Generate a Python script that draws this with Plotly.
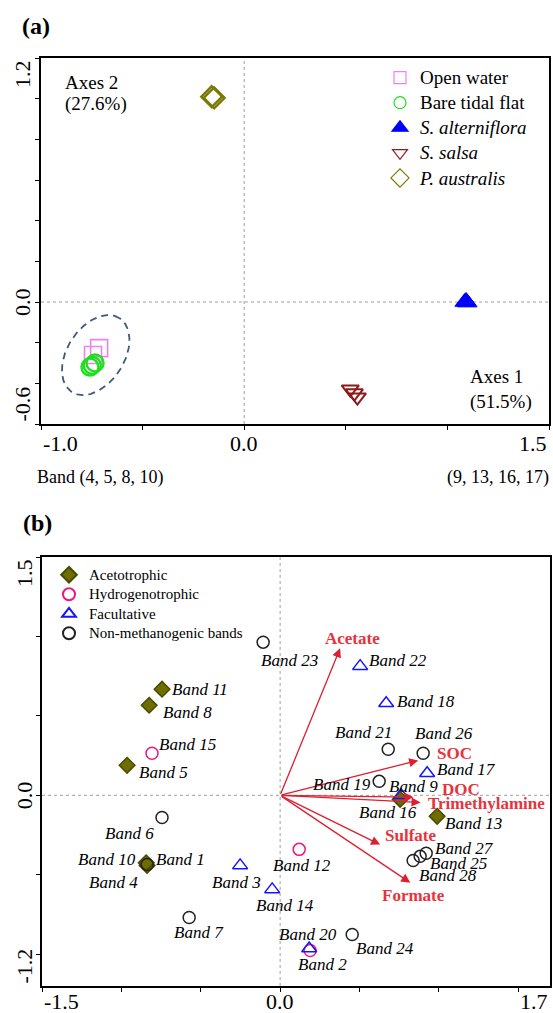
import numpy as np
import plotly.graph_objects as go

# ---------------- Panel (a) data ----------------
ow_x = [-0.714, -0.744]
ow_y = [-0.227, -0.261]
btf_x = [-0.759, -0.734, -0.748]
btf_y = [-0.320, -0.300, -0.312]
salt_x = [1.085, 1.092, 1.098]
salt_y = [0.000, 0.005, -0.003]
ssal_x = [0.522, 0.542, 0.557]
ssal_y = [-0.429, -0.448, -0.468]
paus_x = [-0.160, -0.148]
paus_y = [1.010, 1.004]

ell_cx, ell_cy = -0.731, -0.261
ell_a, ell_b, ell_angle = 0.216, 0.140, 57.0

a_group_names = ["Open water", "Bare tidal flat", "<i>S. alterniflora</i>",
                 "<i>S. salsa</i>", "<i>P. australis</i>"]

a_xticks = [-1.0, -0.5, 0.0, 0.5, 1.0, 1.5]
a_yticks = [-0.6, -0.4, -0.2, 0.0, 0.2, 0.4, 0.6, 0.8, 1.0, 1.2]
a_xlabels = ["-1.0", "0.0", "1.5"]
a_xlabel_vals = [-1.0, 0.0, 1.5]
a_ylabels = ["-0.6", "0.0", "1.2"]
a_ylabel_vals = [-0.6, 0.0, 1.2]

# ---------------- Panel (b) data ----------------
band_ids = list(range(1, 29))
band_x = [-0.838, 0.189, -0.252, -0.838, -0.964, -0.744, -0.573, -0.825, 0.762, -0.844,
          -0.744, 0.120, 0.989, -0.050, -0.807, 0.756, 0.926, 0.668, 0.624, 0.183,
          0.681, 0.504, -0.107, 0.454, 0.882, 0.901, 0.920, 0.838]
band_y = [-0.435, -0.977, -0.441, -0.441, 0.189, -0.139, -0.769, 0.567, 0.000, -0.425,
          0.668, -0.340, -0.132, -0.592, 0.265, -0.025, 0.139, 0.580, 0.088, -0.964,
          0.290, 0.813, 0.964, -0.876, -0.384, 0.265, -0.365, -0.410]
band_type = ["N", "H", "F", "A", "A", "N", "N", "A", "F", "A",
             "A", "H", "A", "F", "H", "A", "F", "F", "N", "F",
             "N", "F", "N", "N", "N", "N", "N", "N"]

type_codes = ["A", "H", "F", "N"]
type_names = ["Acetotrophic", "Hydrogenotrophic", "Facultative", "Non-methanogenic bands"]

env_names = ["Acetate", "SOC", "DOC", "Trimethylamine", "Sulfate", "Formate"]
env_x = [0.378, 0.870, 0.840, 0.885, 0.630, 0.820]
env_y = [0.926, 0.220, -0.012, -0.045, -0.310, -0.550]

b_xticks = [-1.5, -1.0, -0.5, 0.0, 0.5, 1.0, 1.5]
b_yticks = [-1.0, -0.5, 0.0, 0.5, 1.0, 1.5]
b_xlabels = ["-1.5", "0.0", "1.7"]
b_xlabel_vals = [-1.5, 0.0, 1.7]
b_ylabels = ["-1.2", "0.0", "1.5"]
b_ylabel_vals = [-1.2, 0.0, 1.5]

# ---------------- Styles / layout positions ----------------
W, H = 553, 1013
SERIF = "Liberation Serif"
A_DOM_X = [41 / W, 549 / W]
A_DOM_Y = [1 - 424 / H, 1 - 58 / H]
B_DOM_X = [42 / W, 550 / W]
B_DOM_Y = [1 - 986 / H, 1 - 557 / H]

a_styles = [
    dict(symbol="square-open", color="#ee82ee", size=17, width=1.6, lsize=12),
    dict(symbol="circle-open", color="#1ee01e", size=17, width=2.4, lsize=12),
    dict(symbol="triangle-up", color="#0000ff", size=17, width=1.0, lsize=14),
    dict(symbol="triangle-down-open", color="#8b1c1c", size=15, width=2.0, lsize=13),
    dict(symbol="diamond-open", color="#7a7a00", size=16, width=2.4, lsize=14),
]
b_styles = {
    "A": dict(symbol="diamond", color="#6e6e00", line="#4a4a00", size=12),
    "H": dict(symbol="circle-open", color="#f0167c", line="#f0167c", size=12),
    "F": dict(symbol="triangle-up-open", color="#1414ff", line="#1414ff", size=13),
    "N": dict(symbol="circle-open", color="#222222", line="#222222", size=12),
}
# (anchor, dx px right, dy px down) relative to each band point
label_pos = {
    1: ("left", 7, -5), 2: ("center", 12, 14), 3: ("right", 23, 17), 4: ("center", -34, 17),
    5: ("left", 10, 7), 6: ("right", -6, 16), 7: ("center", 10, 15), 8: ("left", 12, 7),
    9: ("left", -14, -9), 10: ("right", -8, -3), 11: ("left", 8, 0), 12: ("left", -28, 16),
    13: ("left", 6, 7), 14: ("center", 13, 16), 15: ("left", 5, -9), 16: ("center", -12, 13),
    17: ("left", 8, -4), 18: ("left", 9, -2), 19: ("center", -37, 3), 20: ("center", -1, -14),
    21: ("center", -25, -17), 22: ("left", 7, -6), 23: ("left", -4, 18), 24: ("left", 2, 14),
    25: ("left", 8, 7), 26: ("center", 21, -20), 27: ("left", 7, -5), 28: ("left", 4, 15),
}
env_label_pos = {
    "Acetate": ("center", 12, -10), "SOC": ("left", 17, -7), "DOC": ("left", 27, -8),
    "Trimethylamine": ("left", 5, 1), "Sulfate": ("left", 3, -9), "Formate": ("center", 3, 13),
}
RED_TXT = "#e8323c"
RED_ARR = "#de1f30"

fig = go.Figure()

# ---------- Panel (a) ----------
t = np.linspace(0, 2 * np.pi, 200)
phi = np.deg2rad(ell_angle)
ex = ell_cx + ell_a * np.cos(t) * np.cos(phi) - ell_b * np.sin(t) * np.sin(phi)
ey = ell_cy + ell_a * np.cos(t) * np.sin(phi) + ell_b * np.sin(t) * np.cos(phi)
fig.add_trace(go.Scatter(x=ex, y=ey, mode="lines", showlegend=False, hoverinfo="skip",
                         line=dict(color="#3b5a7e", width=1.8, dash="7px,5px"),
                         xaxis="x", yaxis="y"))

a_series = [(ow_x, ow_y), (btf_x, btf_y), (salt_x, salt_y), (ssal_x, ssal_y), (paus_x, paus_y)]
for name, (xs, ys), st in zip(a_group_names, a_series, a_styles):
    fig.add_trace(go.Scatter(
        x=xs, y=ys, mode="markers", showlegend=False, name=name,
        marker=dict(symbol=st["symbol"], size=st["size"], color=st["color"],
                    line=dict(color=st["color"], width=st["width"])),
        xaxis="x", yaxis="y"))
for name, st in zip(a_group_names, a_styles):
    fig.add_trace(go.Scatter(
        x=[None], y=[None], mode="markers", legend="legend",
        name='<span style="font-size:19px">%s</span>' % name,
        marker=dict(symbol=st["symbol"], size=st["lsize"], color=st["color"],
                    line=dict(color=st["color"], width=1.2)),
        xaxis="x", yaxis="y"))

# ---------- Panel (b) ----------
for code, tname in zip(type_codes, type_names):
    idx = [i for i, c in enumerate(band_type) if c == code]
    st = b_styles[code]
    fig.add_trace(go.Scatter(
        x=[band_x[i] for i in idx], y=[band_y[i] for i in idx], mode="markers",
        name='<span style="font-size:15px">%s</span>' % tname,
        legend="legend2", showlegend=True,
        marker=dict(symbol=st["symbol"], size=st["size"], color=st["color"],
                    line=dict(color=st["line"], width=1.5)),
        xaxis="x2", yaxis="y2"))

annotations = []
# arrows
for n, ex_, ey_ in zip(env_names, env_x, env_y):
    annotations.append(dict(x=ex_, y=ey_, ax=0, ay=0, xref="x2", yref="y2", axref="x2", ayref="y2",
                            showarrow=True, arrowhead=2, arrowsize=1.4, arrowwidth=1.3,
                            arrowcolor=RED_ARR, text="", standoff=0))
    anc, dx, dy = env_label_pos[n]
    annotations.append(dict(x=ex_, y=ey_, xref="x2", yref="y2", text="<b>%s</b>" % n,
                            showarrow=False, xanchor=anc, yanchor="middle", xshift=dx, yshift=-dy,
                            font=dict(family=SERIF, size=17, color=RED_TXT)))
# band labels
for bid, bx, by in zip(band_ids, band_x, band_y):
    anc, dx, dy = label_pos[bid]
    annotations.append(dict(x=bx, y=by, xref="x2", yref="y2", text="Band %d" % bid,
                            showarrow=False, xanchor=anc, yanchor="middle", xshift=dx, yshift=-dy,
                            font=dict(family=SERIF, size=17, color="black", style="italic")))

# tick labels (a)
xanc = ["left", "center", "right"]
for lab, v, anc in zip(a_xlabels, a_xlabel_vals, xanc):
    annotations.append(dict(x=v, y=0, xref="x", yref="y domain", text=lab, showarrow=False,
                            xanchor=anc, yanchor="middle", yshift=-19,
                            font=dict(family=SERIF, size=22, color="black")))
yanc = ["bottom", "middle", "top"]
for lab, v, anc in zip(a_ylabels, a_ylabel_vals, yanc):
    annotations.append(dict(x=0, y=v, xref="x domain", yref="y", text=lab, showarrow=False,
                            xanchor="center", yanchor=anc, xshift=-19, textangle=-90,
                            font=dict(family=SERIF, size=22, color="black")))
# tick labels (b)
for lab, v, anc in zip(b_xlabels, b_xlabel_vals, xanc):
    annotations.append(dict(x=v, y=0, xref="x2", yref="y2 domain", text=lab, showarrow=False,
                            xanchor=anc, yanchor="middle", yshift=-16,
                            font=dict(family=SERIF, size=22, color="black")))
for lab, v, anc in zip(b_ylabels, b_ylabel_vals, yanc):
    annotations.append(dict(x=0, y=v, xref="x2 domain", yref="y2", text=lab, showarrow=False,
                            xanchor="center", yanchor=anc, xshift=-18, textangle=-90,
                            font=dict(family=SERIF, size=22, color="black")))

# text in panel (a)
txt_font = dict(family=SERIF, size=19, color="black")
annotations += [
    dict(x=63 / W, y=1 - 82 / H, xref="paper", yref="paper", text="Axes 2", showarrow=False,
         xanchor="left", yanchor="middle", font=txt_font),
    dict(x=63 / W, y=1 - 104 / H, xref="paper", yref="paper", text="(27.6%)", showarrow=False,
         xanchor="left", yanchor="middle", font=txt_font),
    dict(x=468 / W, y=1 - 377 / H, xref="paper", yref="paper", text="Axes 1", showarrow=False,
         xanchor="left", yanchor="middle", font=txt_font),
    dict(x=468 / W, y=1 - 402 / H, xref="paper", yref="paper", text="(51.5%)", showarrow=False,
         xanchor="left", yanchor="middle", font=txt_font),
    dict(x=35 / W, y=1 - 477 / H, xref="paper", yref="paper", text="Band (4, 5, 8, 10)",
         showarrow=False, xanchor="left", yanchor="middle", font=dict(family=SERIF, size=18)),
    dict(x=551 / W, y=1 - 477 / H, xref="paper", yref="paper", text="(9, 13, 16, 17)",
         showarrow=False, xanchor="right", yanchor="middle", font=dict(family=SERIF, size=18)),
    dict(x=36 / W, y=1 - 26 / H, xref="paper", yref="paper", text="<b>(a)</b>", showarrow=False,
         xanchor="center", yanchor="middle", font=dict(family=SERIF, size=24, color="black")),
    dict(x=37 / W, y=1 - 523 / H, xref="paper", yref="paper", text="<b>(b)</b>", showarrow=False,
         xanchor="center", yanchor="middle", font=dict(family=SERIF, size=24, color="black")),
]

# zero reference lines
shapes = []
for xr, yr in [("x", "y"), ("x2", "y2")]:
    shapes.append(dict(type="line", xref=xr, yref=yr + " domain", x0=0, x1=0, y0=0, y1=1,
                       line=dict(color="#888888", width=0.8, dash="dot"), layer="below"))
    shapes.append(dict(type="line", xref=xr + " domain", yref=yr, x0=0, x1=1, y0=0, y1=0,
                       line=dict(color="#888888", width=0.8, dash="dot"), layer="below"))

axis_common = dict(showline=True, mirror=True, linecolor="black", linewidth=1.5,
                   ticks="outside", ticklen=4, tickwidth=1.2, tickcolor="black",
                   showticklabels=False, showgrid=False, zeroline=False, fixedrange=True)

fig.update_layout(
    width=W, height=H, autosize=False,
    margin=dict(l=0, r=0, t=0, b=0),
    paper_bgcolor="white", plot_bgcolor="white",
    font=dict(family=SERIF, color="black"),
    xaxis=dict(domain=A_DOM_X, range=[-1.0, 1.5], anchor="y", tickvals=a_xticks, **axis_common),
    yaxis=dict(domain=A_DOM_Y, range=[-0.6, 1.2], anchor="x", tickvals=a_yticks, **axis_common),
    xaxis2=dict(domain=B_DOM_X, range=[-1.5, 1.7], anchor="y2", tickvals=b_xticks, **axis_common),
    yaxis2=dict(domain=B_DOM_Y, range=[-1.2, 1.5], anchor="x2", tickvals=b_yticks, **axis_common),
    legend=dict(x=380 / W, y=1 - 60 / H, xanchor="left", yanchor="top",
                bgcolor="rgba(0,0,0,0)", font=dict(family=SERIF, size=17, color="black"),
                itemsizing="trace"),
    legend2=dict(x=49 / W, y=1 - 560 / H, xanchor="left", yanchor="top",
                 bgcolor="rgba(0,0,0,0)", font=dict(family=SERIF, size=12.7, color="black"),
                 itemsizing="constant"),
    annotations=annotations,
    shapes=shapes,
    showlegend=True,
)

fig.write_html(
    "out.html",
    config={"displayModeBar": False},
    post_script="document.body.style.margin='0';document.body.style.padding='0';"
                "document.documentElement.style.overflow='hidden';document.body.style.overflow='hidden';",
)
